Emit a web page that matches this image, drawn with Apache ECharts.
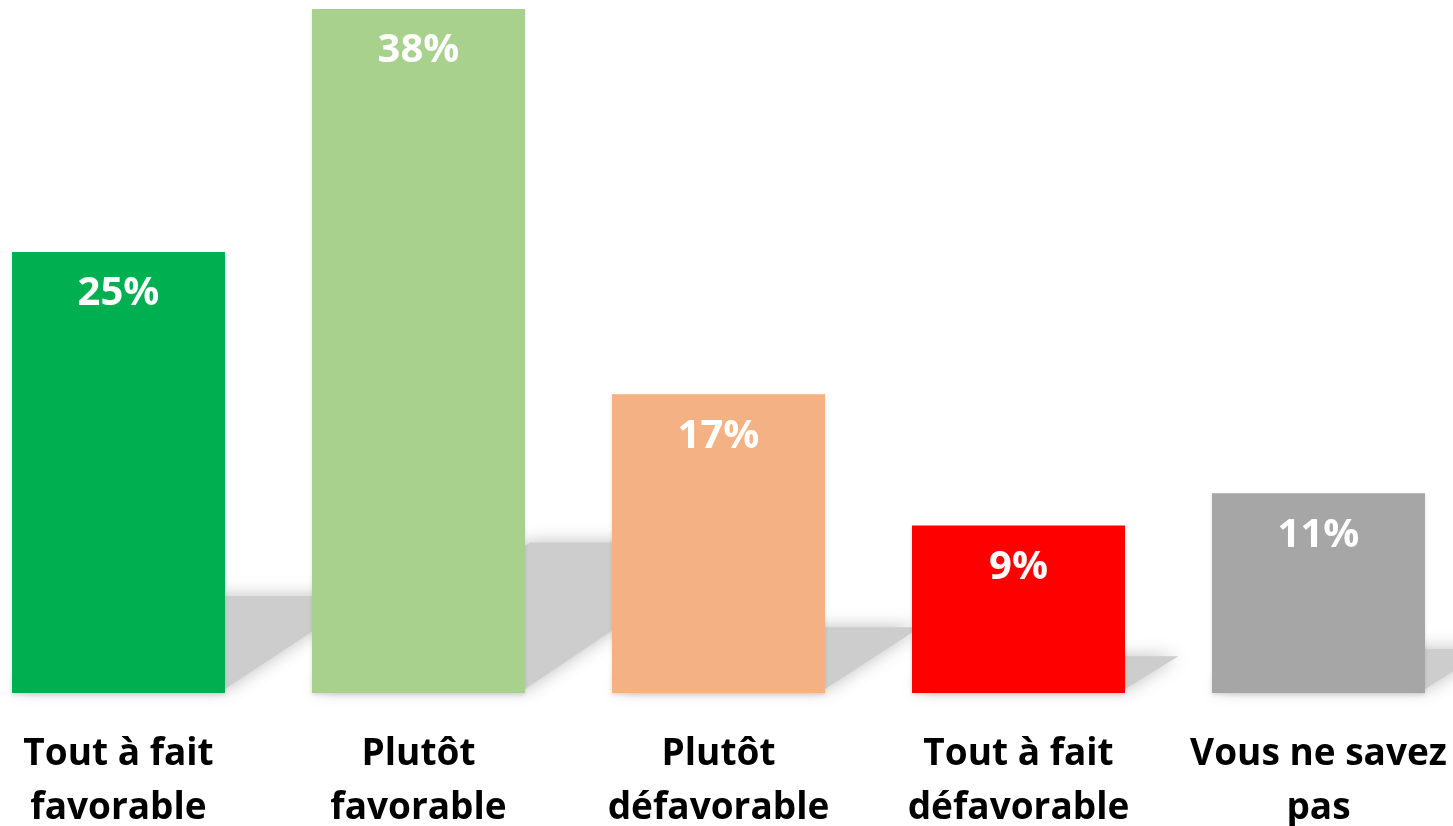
<!DOCTYPE html>
<html>
<head>
<meta charset="utf-8">
<script src="https://cdn.jsdelivr.net/npm/echarts@6/dist/echarts.min.js"></script>
<style>
html,body{margin:0;padding:0;background:#fff;}
#chart{width:1453px;height:826px;}
</style>
</head>
<body>
<div id="chart"></div>
<script>
var categories = ['Tout à fait\nfavorable', 'Plutôt\nfavorable', 'Plutôt\ndéfavorable', 'Tout à fait\ndéfavorable', 'Vous ne savez\npas'];
var values = [24.5, 38, 16.6, 9.3, 11.1];
var colors = ['#00B050', '#A9D18E', '#F4B183', '#FF0000', '#A6A6A6'];

var chart = echarts.init(document.getElementById('chart'));
var BAR_FRAC = 213 / 300;

chart.setOption({
  animation: false,
  backgroundColor: '#ffffff',
  grid: { left: -31.5, right: -15.5, top: 9, bottom: 133, outerBoundsMode: 'none', containLabel: false },
  xAxis: {
    type: 'category',
    data: categories,
    axisLine: { show: false },
    axisTick: { show: false },
    axisLabel: {
      interval: 0,
      margin: 34,
      color: '#000',
      fontFamily: 'Open Sans',
      fontWeight: 'bold',
      fontSize: 37,
      lineHeight: 54
    }
  },
  yAxis: {
    type: 'value',
    min: 0,
    max: 38,
    show: false,
    splitLine: { show: false }
  },
  series: [
    {
      type: 'custom',
      z: 1,
      silent: true,
      clip: false,
      data: values.map(function (v, i) { return [i, v]; }),
      renderItem: function (params, api) {
        var idx = api.value(0);
        var top = api.coord([idx, api.value(1)]);
        var base = api.coord([idx, 0]);
        var bw = api.size([1, 0])[0] * BAR_FRAC;
        var L = base[0] - bw / 2, R = base[0] + bw / 2, B = base[1];
        var h = B - top[1];
        var dy = h * 0.22;
        var sx = dy * 1.45;
        return {
          type: 'polygon',
          shape: { points: [[L, B - 4], [R, B - 4], [R + sx, B - dy], [L + sx, B - dy]] },
          style: { fill: '#cdcdcd', shadowBlur: 18, shadowColor: 'rgba(190,190,190,1)' }
        };
      }
    },
    {
      type: 'bar',
      z: 5,
      barWidth: '71%',
      data: values.map(function (v, i) { return { value: v, itemStyle: { color: colors[i] } }; }),
      itemStyle: { shadowBlur: 4, shadowOffsetY: 2, shadowColor: 'rgba(0,0,0,0.12)' },
      label: {
        show: true,
        position: 'insideTop',
        distance: 22,
        color: '#fff',
        fontFamily: 'Open Sans',
        fontWeight: 'bold',
        fontSize: 40,
        formatter: function (p) { return Math.round(p.value) + '%'; }
      }
    }
  ]
});
</script>
</body>
</html>
